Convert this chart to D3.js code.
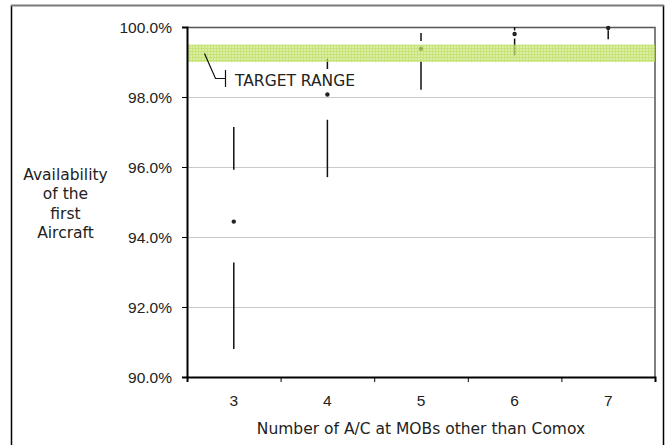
<!DOCTYPE html>
<html>
<head>
<meta charset="utf-8">
<script src="https://cdn.jsdelivr.net/npm/d3@7"></script>
<style>
  body { margin: 0; background: #fff; }
  svg { display: block; font-family: "DejaVu Sans", Verdana, sans-serif; }
  .axis text { font-size: 15.5px; fill: #222; }
  .axis path, .axis line { stroke: #000; }
</style>
</head>
<body>
<script>
// category labels (number of aircraft) and the values
var categories = ["3", "4", "5", "6", "7"];
var upperHigh = [97.14, 99.10, 99.83, 100.0, 99.99];
var upperLow  = [95.92, 98.80, 99.60, 99.90, 99.98];
var meanVals  = [94.44, 98.07, 99.38, 99.80, 99.97];
var lowerHigh = [93.27, 97.35, 99.02, 99.67, 99.91];
var lowerLow  = [90.80, 95.71, 98.21, 99.19, 99.65];
var targetRange = [99.0, 99.5];
var yTicks = [90, 92, 94, 96, 98, 100];

var width = 665, height = 445;
var plotLeft = 187, plotRight = 655, plotTop = 27, plotBottom = 377;
var fontSize = 15.5;

var svg = d3.select("body").append("svg")
    .attr("width", width)
    .attr("height", height);

// hatch pattern for the target band
var defs = svg.append("defs");
var pat = defs.append("pattern")
    .attr("id", "grid")
    .attr("width", 3)
    .attr("height", 3)
    .attr("patternUnits", "userSpaceOnUse");
pat.append("rect").attr("width", 3).attr("height", 3).attr("fill", "#cfea86");
pat.append("path").attr("d", "M0,0.5H3M0.5,0V3")
    .attr("stroke", "#b4d94e").attr("stroke-width", 1);

// outer frame
svg.append("line").attr("x1", 11.5).attr("x2", 11.5).attr("y1", 5).attr("y2", height)
    .attr("stroke", "#000").attr("stroke-width", 1.5);
svg.append("line").attr("x1", 663.5).attr("x2", 663.5).attr("y1", 5).attr("y2", height)
    .attr("stroke", "#000").attr("stroke-width", 1.5);
svg.append("line").attr("x1", 11).attr("x2", 664).attr("y1", 5.5).attr("y2", 5.5)
    .attr("stroke", "#7a7a7a").attr("stroke-width", 2);

var x = d3.scaleBand()
    .domain(categories)
    .range([plotLeft, plotRight]);

var xEdge = d3.scaleLinear()
    .domain([0, categories.length])
    .range([plotLeft, plotRight]);

var y = d3.scaleLinear()
    .domain([90, 100])
    .range([plotBottom, plotTop]);

// gridlines
svg.append("g").selectAll("line")
    .data(yTicks)
    .enter()
    .append("line")
    .attr("x1", plotLeft)
    .attr("x2", plotRight)
    .attr("y1", function(d){ return Math.round(y(d)) + 0.5; })
    .attr("y2", function(d){ return Math.round(y(d)) + 0.5; })
    .attr("stroke", "#cacaca")
    .attr("stroke-width", 1);

// plot frame top and right
svg.append("path")
    .attr("d", "M" + plotLeft + "," + (plotTop + 0.5) + "H" + plotRight + "V" + plotBottom)
    .attr("fill", "none")
    .attr("stroke", "#555")
    .attr("stroke-width", 1.5);

var cx = function(i){ return x(categories[i]) + x.bandwidth() / 2; };

// upper and lower segments
var series = svg.append("g");
categories.forEach(function(c, i){
    series.append("line")
        .attr("x1", cx(i)).attr("x2", cx(i))
        .attr("y1", y(upperHigh[i])).attr("y2", y(upperLow[i]))
        .attr("stroke", "#111").attr("stroke-width", 1.5);
    series.append("line")
        .attr("x1", cx(i)).attr("x2", cx(i))
        .attr("y1", y(lowerHigh[i])).attr("y2", y(lowerLow[i]))
        .attr("stroke", "#111").attr("stroke-width", 1.5);
});

// mean points
series.selectAll("circle")
    .data(meanVals)
    .enter()
    .append("circle")
    .attr("cx", function(d, i){ return cx(i); })
    .attr("cy", function(d){ return y(d); })
    .attr("r", 2.2)
    .attr("fill", "#222");

// target band over the series
svg.append("rect")
    .attr("x", plotLeft)
    .attr("y", y(targetRange[1]))
    .attr("width", plotRight - plotLeft)
    .attr("height", y(targetRange[0]) - y(targetRange[1]))
    .attr("fill", "url(#grid)")
    .attr("opacity", 0.75);

// callout for the band
svg.append("path")
    .attr("d", "M204.5,53.5L215.5,78.5H225.5")
    .attr("fill", "none")
    .attr("stroke", "#111")
    .attr("stroke-width", 1.2);
svg.append("line")
    .attr("x1", 225.5).attr("x2", 225.5).attr("y1", 70).attr("y2", 87)
    .attr("stroke", "#111").attr("stroke-width", 1.2);
svg.append("text")
    .attr("x", 235)
    .attr("y", 86)
    .attr("font-size", fontSize)
    .attr("fill", "#222")
    .text("TARGET RANGE");

// y axis
var yAxis = d3.axisLeft(y)
    .tickValues(yTicks)
    .tickSize(5)
    .tickPadding(10)
    .tickFormat(function(d){ return d.toFixed(1) + "%"; });

svg.append("g")
    .attr("class", "axis")
    .attr("transform", "translate(" + plotLeft + ",0)")
    .call(yAxis)
    .call(function(g){ g.select(".domain").attr("stroke-width", 2); })
    .selectAll("text").attr("dy", "0.38em");

// x axis: labels at centres, ticks at the edges
svg.append("g")
    .attr("class", "axis")
    .attr("transform", "translate(0," + plotBottom + ")")
    .call(d3.axisBottom(x).tickSize(0).tickPadding(18))
    .call(function(g){ g.select(".domain").remove(); });

svg.append("g")
    .attr("class", "axis")
    .attr("transform", "translate(0," + plotBottom + ")")
    .call(d3.axisBottom(xEdge).ticks(categories.length).tickSize(5).tickFormat(""))
    .call(function(g){ g.select(".domain").attr("stroke-width", 2); });

// axis titles
var yTitle = svg.append("text")
    .attr("text-anchor", "middle")
    .attr("font-size", fontSize)
    .attr("fill", "#222");
["Availability", "of the", "first", "Aircraft"].forEach(function(t, i){
    yTitle.append("tspan")
        .attr("x", 65.5)
        .attr("y", 180 + i * 19.3)
        .text(t);
});

svg.append("text")
    .attr("x", (plotLeft + plotRight) / 2)
    .attr("y", 434)
    .attr("text-anchor", "middle")
    .attr("font-size", fontSize)
    .attr("fill", "#222")
    .text("Number of A/C at MOBs other than Comox");
</script>
</body>
</html>
